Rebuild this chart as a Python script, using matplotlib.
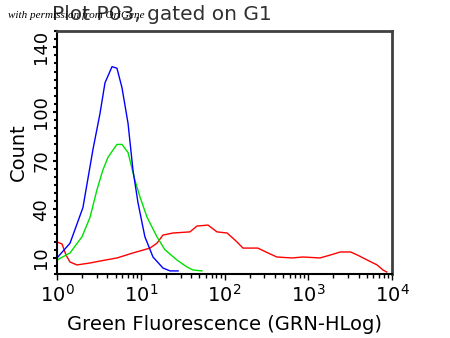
import matplotlib
matplotlib.use("Agg")
import matplotlib.pyplot as plt
from matplotlib.ticker import FixedLocator, MultipleLocator, LogLocator, NullFormatter

# Blue histogram
blue_x = [1.0, 1.43, 2.04, 2.69, 3.26, 3.74, 4.54, 5.2, 5.97, 7.05, 8.08, 9.27, 11.2, 14.0, 18.4, 22.4, 27.9]
blue_y = [9.9, 19, 41, 77, 99, 118, 128, 127, 115, 93, 64, 44, 23, 10.5, 3.7, 1.9, 1.9]

# Green histogram
green_x = [1.0, 1.0, 1.43, 1.99, 2.48, 3.0, 3.52, 4.06, 4.66, 5.2, 5.97, 7.05, 8.5, 9.8, 11.9, 15.6, 19.4, 27.1, 35.7, 42, 53.8]
green_y = [0, 8.6, 13, 23, 35, 52, 64, 72, 76.5, 80, 80, 75, 58, 47.5, 35, 23, 15, 8.6, 4.3, 2.5, 1.9]

# Red histogram
red_x = [1.0, 1.0, 1.15, 1.28, 1.43, 1.73, 2.48, 3.26, 5.2, 8.08, 12.9, 15.6, 18.4, 24.2, 38.7, 46.9, 63.5,
         81.3, 107.6, 141, 166, 250, 330, 422, 640, 864, 1380, 1830, 2420, 3200, 3870, 5070, 6640, 7790, 8670]
red_y = [0, 19.8, 18.5, 11.7, 7.4, 5.6, 6.8, 8, 9.9, 13, 16, 19, 24, 25.3, 26, 29.6, 30.2,
         26, 25.3, 19.8, 16, 16, 13, 10.5, 9.9, 10.5, 9.9, 11.7, 13.6, 13.6, 11.7, 8.6, 5.6, 2.5, 1.2]

y_ticks = [10, 40, 70, 100, 140]
x_ticks = [1, 10, 100, 1000, 10000]
x_tick_labels = [r"$10^0$", r"$10^1$", r"$10^2$", r"$10^3$", r"$10^4$"]

fig = plt.figure(figsize=(4.5, 3.38), dpi=100)
ax = fig.add_axes([57/450, 1-274/338, (392-57)/450, (274-31)/338])

ax.plot(red_x, red_y, color="#ff0000", lw=1.0)
ax.plot(green_x, green_y, color="#00e000", lw=1.0)
ax.plot(blue_x, blue_y, color="#0000ff", lw=1.0)

ax.set_xscale("log")
ax.set_xlim(1, 10000)
ax.set_ylim(0, 150)

ax.set_xticks(x_ticks)
ax.set_xticklabels(x_tick_labels, fontsize=14)
ax.xaxis.set_minor_locator(LogLocator(base=10, subs=range(2, 10)))
ax.xaxis.set_minor_formatter(NullFormatter())
ax.tick_params(axis="x", which="major", direction="out", length=4, width=1, pad=3)
ax.tick_params(axis="x", which="minor", direction="out", length=3, width=1)

ax.yaxis.set_major_locator(FixedLocator(y_ticks))
ax.set_yticklabels([str(v) for v in y_ticks], fontsize=13, rotation=90, va="center")
ax.yaxis.set_minor_locator(MultipleLocator(5))
ax.tick_params(axis="y", which="major", direction="out", length=3, width=1.5, pad=2)
ax.tick_params(axis="y", which="minor", direction="out", length=2, width=1.5)

for s in ["left", "bottom"]:
    ax.spines[s].set_linewidth(1.5)
    ax.spines[s].set_color("black")
for s in ["top", "right"]:
    ax.spines[s].set_linewidth(2)
    ax.spines[s].set_color("#404040")

ax.set_xlabel("Green Fluorescence (GRN-HLog)", fontsize=14, labelpad=7)
ax.set_ylabel("Count", fontsize=14, labelpad=3)

fig.text(52/450, 1-14/338, "Plot P03, gated on G1", fontsize=14.5, va="center", ha="left", color="#303030")
fig.text(8/450, 1-15/338, "with permission from OriGene", fontsize=8, family="Liberation Serif",
         style="italic", va="center", ha="left", color="black")

fig.savefig("out.png", dpi=100)
